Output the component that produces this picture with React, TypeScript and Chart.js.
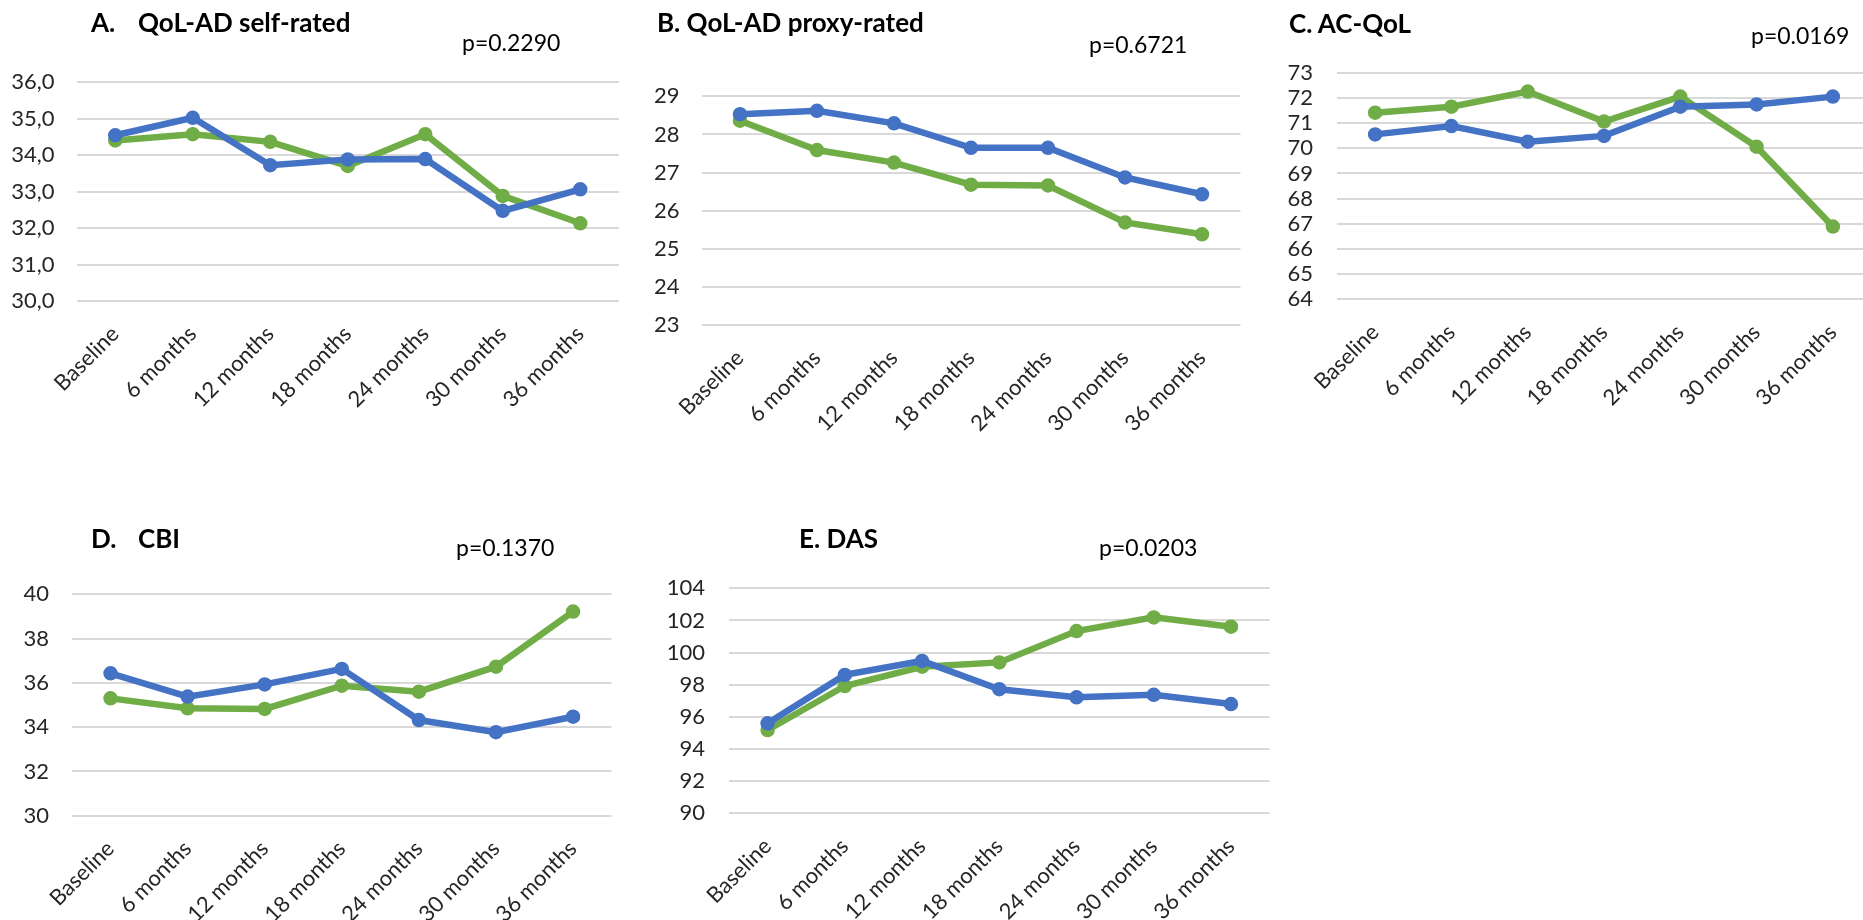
import React, { useEffect, useRef } from 'react';
import { Chart, registerables } from 'chart.js';

Chart.register(...registerables);

// ---------- data ----------
const categories = ['Baseline', '6 months', '12 months', '18 months', '24 months', '30 months', '36 months'];

const qolSelfBlue = [34.54, 35.02, 33.72, 33.88, 33.89, 32.47, 33.06];
const qolSelfGreen = [34.4, 34.57, 34.36, 33.7, 34.57, 32.88, 32.13];

const qolProxyBlue = [28.53, 28.62, 28.29, 27.65, 27.65, 26.87, 26.43];
const qolProxyGreen = [28.36, 27.59, 27.26, 26.68, 26.66, 25.69, 25.38];

const acqolBlue = [70.55, 70.88, 70.26, 70.49, 71.65, 71.74, 72.05];
const acqolGreen = [71.41, 71.65, 72.25, 71.06, 72.05, 70.06, 66.89];

const cbiBlue = [36.43, 35.38, 35.93, 36.63, 34.32, 33.77, 34.47];
const cbiGreen = [35.3, 34.85, 34.82, 35.87, 35.6, 36.73, 39.22];

const dasBlue = [95.6, 98.61, 99.48, 97.72, 97.22, 97.37, 96.8];
const dasGreen = [95.18, 97.92, 99.12, 99.39, 101.34, 102.19, 101.61];

const panelTitles = ['A.', 'B.', 'C.', 'D.', 'E.'];
const panelNames = ['QoL-AD self-rated', 'QoL-AD proxy-rated', 'AC-QoL', 'CBI', 'DAS'];
const pValues = ['p=0.2290', 'p=0.6721', 'p=0.0169', 'p=0.1370', 'p=0.0203'];

const yMins = [30, 23, 64, 30, 90];
const yMaxs = [36, 29, 73, 40, 104];
const ySteps = [1, 1, 1, 2, 2];
const yDecimals = [1, 0, 0, 0, 0];

// ---------- styles ----------
const BLUE = '#4472C4';
const GREEN = '#70AD47';
const GRID = '#d9d9d9';
const TEXT = '#262626';
const FONT = 'Lato, "Open Sans", sans-serif';

type Box = { x: number; y: number; w: number; h: number };
type Area = { l: number; r: number; t: number; b: number };

type PanelSpec = {
  idx: number;
  blue: number[];
  green: number[];
  canvas: Box;
  area: Area;
  yPad: number;
  title: { x: number; y: number; nameX: number | null };
  p: { x: number; y: number };
};

const panels: PanelSpec[] = [
  {
    idx: 0, blue: qolSelfBlue, green: qolSelfGreen,
    canvas: { x: 0, y: 0, w: 630, h: 470 },
    area: { l: 76.5, r: 619, t: 82, b: 301 },
    yPad: 22,
    title: { x: 91, y: 9, nameX: 138 },
    p: { x: 462, y: 30.5 },
  },
  {
    idx: 1, blue: qolProxyBlue, green: qolProxyGreen,
    canvas: { x: 630, y: 0, w: 620, h: 470 },
    area: { l: 701.5, r: 1240.5, t: 96.3, b: 325 },
    yPad: 22,
    title: { x: 657, y: 9, nameX: null },
    p: { x: 1089, y: 33 },
  },
  {
    idx: 2, blue: acqolBlue, green: acqolGreen,
    canvas: { x: 1250, y: 0, w: 630, h: 470 },
    area: { l: 1337, r: 1871, t: 72.7, b: 299.3 },
    yPad: 24,
    title: { x: 1289, y: 9.5, nameX: null },
    p: { x: 1751, y: 23.5 },
  },
  {
    idx: 3, blue: cbiBlue, green: cbiGreen,
    canvas: { x: 0, y: 480, w: 630, h: 440 },
    area: { l: 72, r: 611.6, t: 594.3, b: 815.7 },
    yPad: 23,
    title: { x: 91, y: 524.5, nameX: 138 },
    p: { x: 456, y: 536 },
  },
  {
    idx: 4, blue: dasBlue, green: dasGreen,
    canvas: { x: 630, y: 480, w: 650, h: 440 },
    area: { l: 729, r: 1269.6, t: 588.3, b: 813.3 },
    yPad: 24,
    title: { x: 799, y: 524.5, nameX: null },
    p: { x: 1099, y: 536 },
  },
];

function Panel({ spec }: { spec: PanelSpec }) {
  const ref = useRef<HTMLCanvasElement>(null);
  useEffect(() => {
    const c = ref.current;
    if (!c) return;
    const { canvas, area, idx } = spec;
    const yw = area.l - canvas.x;
    const xh = canvas.y + canvas.h - area.b;
    const dec = yDecimals[idx];
    const mkDs = (data: number[], color: string) => ({
      data,
      borderColor: color,
      backgroundColor: color,
      borderWidth: 6.5,
      pointRadius: 6.5,
      pointBorderWidth: 1.5,
      pointBackgroundColor: color,
      pointBorderColor: color,
      tension: 0,
      clip: false as any,
    });
    const chart = new Chart(c, {
      type: 'line',
      data: {
        labels: categories,
        datasets: [mkDs(spec.blue, BLUE), mkDs(spec.green, GREEN)],
      },
      options: {
        responsive: false,
        animation: false,
        devicePixelRatio: 1,
        layout: {
          padding: {
            left: 0,
            top: area.t - canvas.y,
            right: canvas.x + canvas.w - area.r,
            bottom: 0,
          },
        },
        plugins: {
          legend: { display: false },
          tooltip: { enabled: false },
          title: { display: false },
        },
        scales: {
          x: {
            offset: true,
            grid: { display: false, drawTicks: false },
            border: { display: false },
            ticks: {
              minRotation: 45,
              maxRotation: 45,
              autoSkip: false,
              padding: 20,
              color: TEXT,
              font: { family: FONT, size: 22 },
            },
            afterFit: (s: any) => {
              s.height = xh;
            },
          },
          y: {
            min: yMins[idx],
            max: yMaxs[idx],
            grid: { color: GRID, lineWidth: 2, drawTicks: false },
            border: { display: false },
            ticks: {
              stepSize: ySteps[idx],
              autoSkip: false,
              padding: spec.yPad,
              color: TEXT,
              font: { family: FONT, size: 22 },
              callback: (v: any) => Number(v).toFixed(dec).replace('.', ','),
            },
            afterBuildTicks: (s: any) => {
              const t: { value: number }[] = [];
              for (let v = yMins[idx]; v <= yMaxs[idx] + 1e-9; v += ySteps[idx]) t.push({ value: v });
              s.ticks = t;
            },
            afterFit: (s: any) => {
              s.width = yw;
            },
          },
        },
      },
    });
    return () => chart.destroy();
  }, [spec]);

  const { canvas, idx, title, p } = spec;
  const titleStyle: React.CSSProperties = {
    position: 'absolute',
    top: title.y,
    fontFamily: FONT,
    fontWeight: 700,
    fontSize: 26,
    lineHeight: 1,
    color: '#000',
    whiteSpace: 'pre',
  };
  return (
    <>
      <canvas
        ref={ref}
        width={canvas.w}
        height={canvas.h}
        style={{ position: 'absolute', left: canvas.x, top: canvas.y, width: canvas.w, height: canvas.h }}
      />
      {title.nameX === null ? (
        <div style={{ ...titleStyle, left: title.x }}>{panelTitles[idx] + ' ' + panelNames[idx]}</div>
      ) : (
        <div style={{ ...titleStyle, left: title.x }}>
          <span>{panelTitles[idx]}</span>
          <span style={{ position: 'absolute', left: title.nameX - title.x, top: 0 }}>{panelNames[idx]}</span>
        </div>
      )}
      <div
        style={{
          position: 'absolute',
          left: p.x,
          top: p.y,
          fontFamily: FONT,
          fontSize: 23,
          lineHeight: 1,
          color: '#000',
          whiteSpace: 'pre',
        }}
      >
        {pValues[idx]}
      </div>
    </>
  );
}

export default function App() {
  return (
    <div
      style={{
        position: 'absolute',
        left: 0,
        top: 0,
        width: 1863,
        height: 920,
        overflow: 'hidden',
        background: '#fff',
      }}
    >
      {panels.map((s) => (
        <Panel key={s.idx} spec={s} />
      ))}
    </div>
  );
}
